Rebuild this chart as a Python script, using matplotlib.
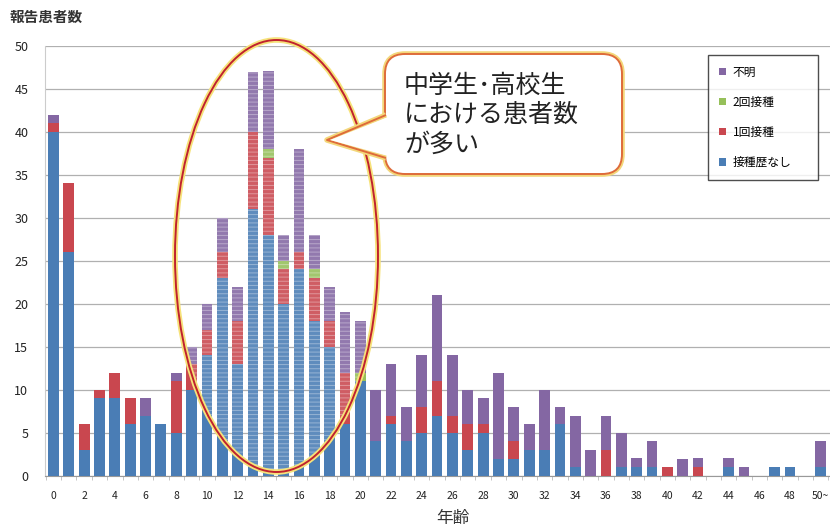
import matplotlib
matplotlib.use("Agg")
import matplotlib.pyplot as plt
from matplotlib.patches import Ellipse, FancyBboxPatch, Polygon, Patch
import numpy as np

plt.rcParams['font.family'] = ['Noto Sans CJK JP', 'DejaVu Sans']
plt.rcParams['hatch.linewidth'] = 0.7

ages = [str(i) for i in range(50)] + ["50~"]
none_vac = [40, 26, 3, 9, 9, 6, 7, 6, 5, 10, 14, 23, 13, 31, 28, 20, 24, 18, 15, 6,
            11, 4, 6, 4, 5, 7, 5, 3, 5, 2, 2, 3, 3, 6, 1, 0, 0, 1, 1, 1,
            0, 0, 0, 0, 1, 0, 0, 1, 1, 0, 1]
once = [1, 8, 3, 1, 3, 3, 0, 0, 6, 3, 3, 3, 5, 9, 9, 4, 2, 5, 3, 6,
        0, 0, 1, 0, 3, 4, 2, 3, 1, 0, 2, 0, 0, 0, 0, 0, 3, 0, 0, 0,
        1, 0, 1, 0, 0, 0, 0, 0, 0, 0, 0]
twice = [0, 0, 0, 0, 0, 0, 0, 0, 0, 0, 0, 0, 0, 0, 1, 1, 0, 1, 0, 0,
         1, 0, 0, 0, 0, 0, 0, 0, 0, 0, 0, 0, 0, 0, 0, 0, 0, 0, 0, 0,
         0, 0, 0, 0, 0, 0, 0, 0, 0, 0, 0]
unknown = [1, 0, 0, 0, 0, 0, 2, 0, 1, 2, 3, 4, 4, 7, 9, 3, 12, 4, 4, 7,
           6, 6, 6, 4, 6, 10, 7, 4, 3, 10, 4, 3, 7, 2, 6, 3, 4, 4, 1, 3,
           0, 2, 1, 0, 1, 1, 0, 0, 0, 0, 3]
series_names = ["接種歴なし", "1回接種", "2回接種", "不明"]
colors = ["#4a7db5", "#c9474f", "#96c05a", "#8467a3"]

fig = plt.figure(figsize=(8.3, 5.31), dpi=100)
fig.patch.set_facecolor("white")
ax = fig.add_axes([45/830, (531-475.7)/531, 1 - 45/830, (475.7-45.7)/531])

x = np.arange(len(ages))
data = [np.array(none_vac), np.array(once), np.array(twice), np.array(unknown)]
bottom = np.zeros(len(ages))
bar_sets = []
for vals, c, name in zip(data, colors, series_names):
    ax.bar(x, vals, bottom=bottom, width=0.7, color=c, label=name, zorder=3)
    bar_sets.append((vals.copy(), bottom.copy()))
    bottom = bottom + vals

ax.set_xlim(-0.55, 50.6)
ax.set_ylim(0, 50)
ax.set_yticks(range(0, 51, 5))
ax.set_xticks(range(0, 51, 2))
ax.set_xticklabels([ages[i] for i in range(0, 51, 2)], fontsize=7.5)
ax.set_xticks(np.arange(-0.5, 51, 1), minor=True)
ax.tick_params(axis='x', which='major', length=0, pad=11, colors="#222222")
ax.tick_params(axis='x', which='minor', length=3, color="#bbbbbb")
ax.tick_params(axis='y', length=0, pad=12, labelsize=9, colors="#222222")
ax.grid(axis='y', color="#b0b0b0", linewidth=0.9, zorder=0)
ax.set_axisbelow(True)
for s in ["top", "right"]:
    ax.spines[s].set_visible(False)
ax.spines["left"].set_color("#cccccc")
ax.spines["bottom"].set_color("#999999")

# legend
handles = [Patch(facecolor=c, edgecolor='none') for c in colors][::-1]
labels = series_names[::-1]
ax_w_px, ax_h_px = 785, 430
leg = ax.legend(handles, labels, loc='upper left', mode='expand',
                bbox_to_anchor=((708-45)/ax_w_px, (475.7-55)/ax_h_px, 110/ax_w_px, 0.001),
                fontsize=8.5, frameon=True, fancybox=False, edgecolor="#222222",
                handlelength=0.55, handleheight=0.55, handletextpad=0.6,
                labelspacing=1.45, borderpad=0.95, borderaxespad=0)
leg.get_frame().set_linewidth(1.0)

# texts
fig.text(10/830, 1 - 17/531, "報告患者数", fontsize=10.5, fontweight='bold', color="#333333", va='center', ha='left')
fig.text(453/830, 1 - 518/531, "年齢", fontsize=12, color="#333333", va='center', ha='center')

# overlay in pixel coordinates
ov = fig.add_axes([0, 0, 1, 1], facecolor='none')
ov.set_xlim(0, 830)
ov.set_ylim(531, 0)
ov.axis('off')

ell_center = (276.5, 256)
ell_w, ell_h = 203, 432
glow = Ellipse(ell_center, ell_w, ell_h, fill=False, edgecolor="#f6e27a", linewidth=4.0, zorder=5)
ov.add_patch(glow)
ell = Ellipse(ell_center, ell_w, ell_h, fill=False, edgecolor="#c0222e", linewidth=1.4, zorder=6)
ov.add_patch(ell)

# texture on bars inside the ellipse
clip_ell = Ellipse(ell_center, ell_w, ell_h, transform=ov.transData)
for vals, bot in bar_sets:
    tex = ax.bar(x, vals, bottom=bot, width=0.7, facecolor=(1, 1, 1, 0.12),
                 edgecolor=(1, 1, 1, 0.35), hatch='----', linewidth=0, zorder=4)
    for r in tex:
        r.set_clip_path(clip_ell)

# callout
box = FancyBboxPatch((385, 54), 237, 120, boxstyle="round,pad=0,rounding_size=20",
                     facecolor="white", edgecolor="#f3d77a", linewidth=4.0, zorder=7)
ov.add_patch(box)
box2 = FancyBboxPatch((385, 54), 237, 120, boxstyle="round,pad=0,rounding_size=20",
                      facecolor="white", edgecolor="#de6b3a", linewidth=1.4, zorder=8)
ov.add_patch(box2)
ptr_pts = [(389, 115), (327, 140), (389, 158)]
ov.add_patch(Polygon(ptr_pts, closed=True, facecolor="white", edgecolor='none', zorder=9))
px = [386, 327, 386]
py = [115, 140, 158]
ov.plot(px, py, color="#f3d77a", linewidth=4.0, zorder=9, solid_capstyle='butt')
ov.plot(px, py, color="#de6b3a", linewidth=1.4, zorder=10, solid_capstyle='butt')
ov.add_patch(Polygon([(388, 117), (330, 140), (388, 156)], closed=True, facecolor="white", edgecolor='none', zorder=11))

ov.text(404, 115, "中学生･高校生\nにおける患者数\nが多い", fontsize=18, color="#222222",
        va='center', ha='left', linespacing=1.18, zorder=12)

fig.savefig("out.png", dpi=100, facecolor="white")
